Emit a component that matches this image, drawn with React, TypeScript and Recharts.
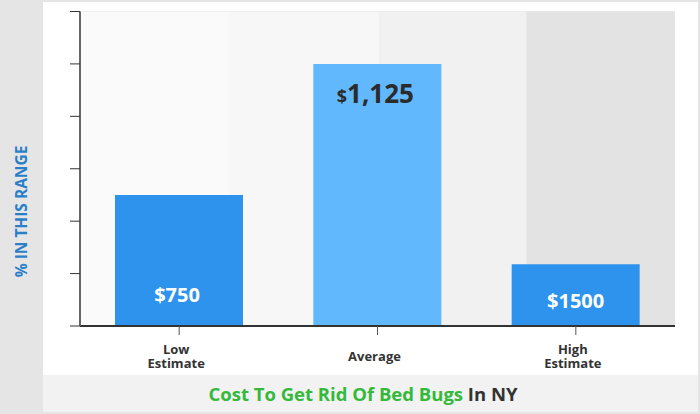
import React from 'react';
import { ComposedChart, Bar, Cell, XAxis, YAxis, CartesianGrid, ReferenceArea, LabelList, Label } from 'recharts';

const categories = ['Low Estimate', 'Average', 'High Estimate'];
const shares = [12.5, 25, 5.9];
const priceLabels = ['$750', '$1,125', '$1500'];
const barColors = ['#2e93ec', '#61b8fc', '#2e93ec'];
const yTicks = [0, 5, 10, 15, 20, 25, 30];
const bandEdges = [0, 0.5, 1.005, 1.5, 2];
const bandColors = ['#fafafa', '#f7f7f7', '#f1f1f1', '#e3e3e3'];

const data = categories.map((name, i) => ({ name, share: shares[i] }));
const FONT = '"Open Sans", sans-serif';

const CategoryTick = (props: any) => {
  const { x, y, payload } = props;
  const words = String(payload.value).split(' ');
  const tx = x - 3;
  if (words.length === 1) {
    return <text x={tx} y={y + 24} textAnchor="middle" fontFamily={FONT} fontWeight={700} fontSize={13} fill="#333">{words[0]}</text>;
  }
  return (
    <text textAnchor="middle" fontFamily={FONT} fontWeight={700} fontSize={13} fill="#333">
      <tspan x={tx} y={y + 17}>{words[0]}</tspan>
      <tspan x={tx} y={y + 31}>{words[1]}</tspan>
    </text>
  );
};

const PriceLabel = (props: any) => {
  const { x, y, width, height, index } = props;
  const cx = x + width / 2;
  const text = priceLabels[index];
  if (index === 1) {
    return (
      <text x={cx - 2} y={y + 39} textAnchor="middle" fontFamily={FONT} fontWeight={700} fill="#2b2b2b" fontSize={26}>
        <tspan fontSize={18}>{text[0]}</tspan>{text.slice(1)}
      </text>
    );
  }
  const fromBottom = index === 0 ? 24 : 18;
  const dx = index === 0 ? -2 : 0;
  return (
    <text x={cx + dx} y={y + height - fromBottom} textAnchor="middle" fontFamily={FONT} fontWeight={700} fill="#fff" fontSize={20}>
      {text}
    </text>
  );
};

const YTitle = () => (
  <text x={0} y={0} transform="translate(27 211.5) rotate(-90)" textAnchor="middle" fontFamily={FONT} fontWeight={700} fontSize={15.5} fill="#2a7fc9">
    % IN THIS RANGE
  </text>
);

const XTitle = () => (
  <text x={363} y={401} textAnchor="middle" fontFamily={FONT} fontWeight={700} fontSize={18.5} fill="#34b93b">
    Cost To Get Rid Of Bed Bugs <tspan fill="#333">In NY</tspan>
  </text>
);

const NoLabel = () => <g />;

export default function App() {
  return (
    <div style={{ position: 'absolute', left: 0, top: 0, width: 700, height: 414, background: '#e5e5e5', overflow: 'hidden' }}>
      <div style={{ position: 'absolute', left: 43, top: 2, width: 655, height: 410, background: '#fff' }} />
      <div style={{ position: 'absolute', left: 43, top: 375, width: 655, height: 37, background: '#f2f2f2' }} />
      <div style={{ position: 'absolute', left: 0, top: 0 }}>
        <ComposedChart width={700} height={414} data={data} margin={{ top: 11.5, right: 25, bottom: 0, left: 0 }} barSize={128}>
          <XAxis dataKey="name" height={88} interval={0} tick={<CategoryTick />} tickLine={{ stroke: '#555', strokeWidth: 1 }} tickSize={9} axisLine={{ stroke: '#333', strokeWidth: 2 }}>
            <Label content={<XTitle />} />
          </XAxis>
          <XAxis xAxisId="bands" type="number" domain={[0, 2]} hide />
          <YAxis domain={[0, 30]} ticks={yTicks} width={80} tick={<NoLabel />} tickSize={10} tickLine={{ stroke: '#333', strokeWidth: 1 }} axisLine={{ stroke: '#666', strokeWidth: 2 }}>
            <Label content={<YTitle />} />
          </YAxis>
          {bandColors.slice(0, 3).map((c, i) => (
            <ReferenceArea key={i} xAxisId="bands" x1={bandEdges[i]} x2={bandEdges[i + 1]} fill={c} fillOpacity={1} stroke="none" />
          ))}
          <CartesianGrid vertical={false} stroke="#e8e8e8" strokeWidth={1} />
          <ReferenceArea xAxisId="bands" x1={bandEdges[3]} x2={bandEdges[4]} fill={bandColors[3]} fillOpacity={1} stroke="none" />
          <Bar dataKey="share" isAnimationActive={false}>
            {data.map((_, i) => <Cell key={i} fill={barColors[i]} />)}
            <LabelList dataKey="share" content={<PriceLabel />} />
          </Bar>
        </ComposedChart>
      </div>
    </div>
  );
}
